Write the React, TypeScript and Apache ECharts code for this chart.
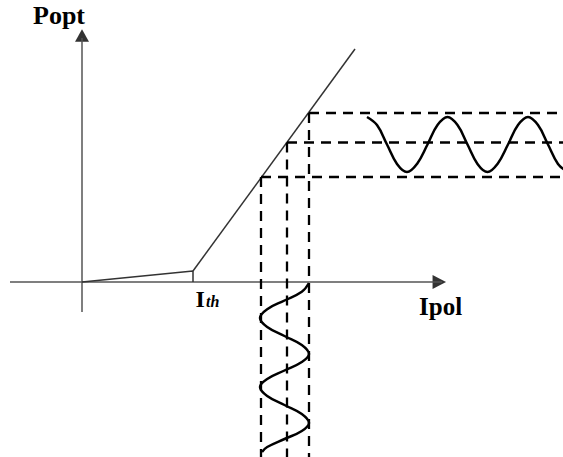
import React, { useEffect, useRef } from "react";
import * as echarts from "echarts";

// Coordinate frame: origin at the crossing of the two axes (arbitrary units)
const X_RANGE = [-82, 481];
const Y_RANGE = [-175, 282];

// Axes: line extents and arrow-head centres
const AXIS_IPOL = [[-72, 0], [360, 0]];
const AXIS_POPT = [[0, -30], [0, 244]];
const ARROW_IPOL = [357.3, 0];
const ARROW_POPT = [0, 246.5];

// P-I characteristic
const SUB_THRESHOLD = [[0, 0], [111, 11], [111, 0]];
const LASING = [[111, 11], [273, 233]];

// Bias current levels (min, mid, max) and the matching optical powers
const BIAS_LEVELS = [179, 205, 227];
const POWER_LEVELS = [105, 139.5, 169];

// Modulating current (vertical sine below the axis): [current, time]
const INPUT_WAVE = [
  [227, -1], [219.8, -9.8], [202.5, -18.5], [185.2, -27.2], [178, -36],
  [185.2, -45], [202.5, -54], [219.8, -63], [227, -72], [219.8, -80],
  [202.5, -88.5], [185.2, -97], [178, -105], [185.2, -114], [202.5, -123],
  [219.8, -132], [227, -141], [219.8, -149], [202.5, -157], [185.2, -165], [180, -170],
];

// Output optical power (horizontal sine to the right): [time, power]
const OUTPUT_WAVE = [
  [285, 165], [295, 156.9], [305, 137.5], [315, 118.1], [325, 110],
  [335, 118.1], [345.5, 137.5], [355.5, 156.9], [365.5, 165], [375.5, 156.9],
  [385.5, 137.5], [395.5, 118.1], [405.5, 110], [415.5, 118.1], [426, 137.5],
  [436, 156.9], [446, 165], [456, 156.9], [466, 137.5], [476, 118.1], [486, 110],
];

export default function App() {
  const ref = useRef<HTMLDivElement>(null);
  useEffect(() => {
    if (!ref.current) return;
    const chart = echarts.init(ref.current, null, { renderer: "svg" });
    const dashed = { color: "#000", width: 2.3, type: [10, 7] as any };
    const dashedSeries: any[] = [];
    BIAS_LEVELS.forEach((b, i) => {
      const p = POWER_LEVELS[i];
      dashedSeries.push({
        type: "line",
        data: [[b, p], [X_RANGE[1], p]],
        symbol: "none",
        lineStyle: dashed,
        silent: true,
      });
      dashedSeries.push({
        type: "line",
        data: [[b, p], [b, Y_RANGE[0]]],
        symbol: "none",
        lineStyle: dashed,
        silent: true,
      });
    });
    const axisStyle = { color: "#555", width: 1.5 };
    const textBase = { fill: "#000", fontFamily: "Liberation Serif", fontWeight: "bold" };
    const txt = (text: string, x: number, y: number, fontSize: number, extra: any = {}) => ({
      type: "text",
      x,
      y,
      style: {
        ...textBase,
        ...extra,
        text,
        fontSize,
        textAlign: "left",
        textVerticalAlign: "middle",
        align: "left",
        verticalAlign: "middle",
      },
    });
    chart.setOption({
      animation: false,
      backgroundColor: "#fff",
      grid: { left: 0, right: 0, top: 0, bottom: 0, containLabel: false },
      xAxis: { type: "value", min: X_RANGE[0], max: X_RANGE[1], show: false },
      yAxis: { type: "value", min: Y_RANGE[0], max: Y_RANGE[1], show: false },
      series: [
        { type: "line", data: AXIS_IPOL, symbol: "none", silent: true, lineStyle: axisStyle },
        { type: "line", data: AXIS_POPT, symbol: "none", silent: true, lineStyle: axisStyle },
        {
          type: "scatter",
          data: [ARROW_IPOL],
          symbol: "triangle",
          symbolSize: [14, 13.5],
          symbolRotate: -90,
          silent: true,
          itemStyle: { color: "#000" },
        },
        {
          type: "scatter",
          data: [ARROW_POPT],
          symbol: "triangle",
          symbolSize: [14, 12.5],
          silent: true,
          itemStyle: { color: "#000" },
        },
        {
          type: "line",
          data: SUB_THRESHOLD,
          symbol: "none",
          silent: true,
          lineStyle: { color: "#333", width: 1.5 },
        },
        {
          type: "line",
          data: LASING,
          symbol: "none",
          silent: true,
          lineStyle: { color: "#333", width: 1.5 },
        },
        ...dashedSeries,
        {
          type: "line",
          data: INPUT_WAVE,
          symbol: "none",
          smooth: 0.4,
          silent: true,
          lineStyle: { color: "#000", width: 2.5 },
        },
        {
          type: "line",
          data: OUTPUT_WAVE,
          symbol: "none",
          smooth: 0.4,
          silent: true,
          lineStyle: { color: "#000", width: 2.5 },
        },
      ],
      graphic: [
        txt("Popt", 33, 15.8, 26),
        txt("Ipol", 419, 306, 25),
        txt("I", 195.5, 298.5, 24),
        txt("th", 206, 301.3, 16, { fontStyle: "italic" }),
      ],
    });
    return () => chart.dispose();
  }, []);
  return (
    <div
      ref={ref}
      style={{ position: "fixed", left: 0, top: 0, width: 563, height: 457, background: "#fff" }}
    />
  );
}
